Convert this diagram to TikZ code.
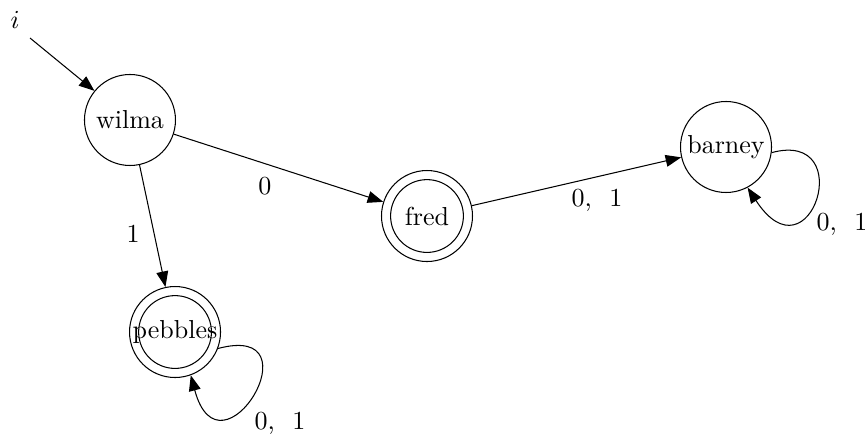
\documentclass[tikz,border=0pt]{standalone}
\usetikzlibrary{arrows.meta}
\tikzset{
  state/.style={draw, circle, minimum size=35pt, inner sep=0pt},
  accepting/.style={state, path picture={\draw (path picture bounding box.center) circle (14pt);}},
  selfloop/.style={out=15, in=#1, in distance=1.55cm},
  >={Triangle[length=2.1mm, width=1.6mm]}
}
\begin{document}
\begin{tikzpicture}
      \useasboundingbox (0,0) rectangle (11.693,-5.921);
      \draw
        (1.757,-1.622) node[state] (wilma){wilma}
        (5.772,-2.920) node[accepting] (fred){fred}
        (2.366,-4.488) node[accepting] (pebbles){\makebox[0pt]{pebbles}}
        (9.814,-1.987) node[state] (barney){barney}
        (0.203,-0.270) node (init){$i$};
      \coordinate (start) at (0.406,-0.514);
      \draw
        (3.580,-2.520) node (lwf){0}
        (1.798,-3.163) node (lwp){1}
        (8.070,-2.704) node (lfb){0,\ \ 1}
        (11.382,-3.030) node (lbb){0,\ \ 1}
        (3.785,-5.718) node (lpp){0,\ \ 1};
      \begin{scope}[->]
        \draw (start) to (wilma);
        \draw (wilma) to (fred);
        \draw (wilma) to (pebbles);
        \draw (fred) to (barney);
        \draw (barney.-7) to[selfloop=-57, out distance=1.22cm] (barney.-62);
        \draw (pebbles.-21) to[selfloop=-75, out distance=1.42cm] (pebbles.-70);
      \end{scope}
    \end{tikzpicture}
\end{document}
